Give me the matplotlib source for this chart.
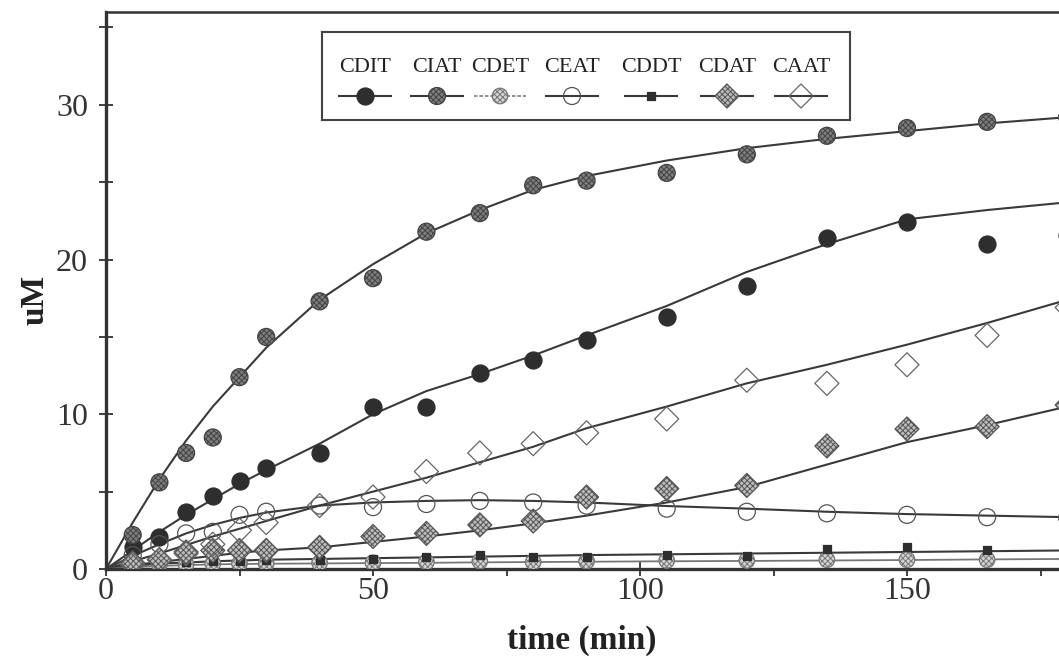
import matplotlib
matplotlib.use("Agg")
import matplotlib.pyplot as plt

plt.rcParams['font.family'] = ['Liberation Serif', 'DejaVu Serif']
plt.rcParams['hatch.linewidth'] = 0.7
plt.rcParams['hatch.color'] = '#333333'

W, H = 1059, 664

# measured time points (min)
t = [5, 10, 15, 20, 25, 30, 40, 50, 60, 70, 80, 90, 105, 120, 135, 150, 165, 180]
cdit = [1.4, 2.1, 3.7, 4.7, 5.7, 6.5, 7.5, 10.5, 10.5, 12.7, 13.5, 14.8, 16.3, 18.3, 21.4, 22.4, 21.0, 21.6]
ciat = [2.2, 5.6, 7.5, 8.5, 12.4, 15.0, 17.3, 18.8, 21.8, 23.0, 24.8, 25.1, 25.6, 26.8, 28.0, 28.5, 28.9, 29.2]
cdet = [0.2, 0.3, 0.3, 0.35, 0.35, 0.35, 0.4, 0.4, 0.45, 0.5, 0.45, 0.5, 0.55, 0.55, 0.6, 0.6, 0.6, 0.6]
ceat = [0.9, 1.6, 2.3, 2.4, 3.5, 3.7, 4.1, 4.0, 4.2, 4.4, 4.3, 4.1, 3.9, 3.7, 3.6, 3.5, 3.35, 3.3]
cddt = [0.3, 0.4, 0.45, 0.5, 0.5, 0.55, 0.6, 0.65, 0.8, 0.9, 0.8, 0.8, 0.9, 0.85, 1.3, 1.45, 1.2, 1.2]
cdat = [0.4, 0.6, 1.1, 1.2, 1.2, 1.2, 1.4, 2.1, 2.3, 2.85, 3.1, 4.65, 5.2, 5.4, 7.95, 9.05, 9.2, 10.6]
caat = [0.3, 0.6, 1.0, 1.6, 2.5, 3.0, 4.1, 4.65, 6.3, 7.5, 8.1, 8.8, 9.7, 12.2, 12.0, 13.2, 15.1, 16.9]

# fitted curves
tc = [0, 5, 10, 15, 20, 25, 30, 40, 50, 60, 70, 80, 90, 105, 120, 135, 150, 165, 180]
cdit_fit = [0, 1.2, 2.4, 3.5, 4.5, 5.5, 6.4, 8.1, 10.0, 11.5, 12.6, 13.8, 15.1, 17.0, 19.2, 21.0, 22.6, 23.2, 23.7]
ciat_fit = [0, 3.0, 5.8, 8.3, 10.5, 12.4, 14.3, 17.4, 19.7, 21.7, 23.2, 24.5, 25.4, 26.4, 27.2, 27.8, 28.3, 28.8, 29.2]
cdet_fit = [0, 0.12, 0.2, 0.25, 0.3, 0.32, 0.34, 0.36, 0.38, 0.4, 0.43, 0.45, 0.47, 0.5, 0.52, 0.55, 0.58, 0.62, 0.65]
ceat_fit = [0, 0.85, 1.6, 2.3, 2.85, 3.3, 3.65, 4.1, 4.3, 4.4, 4.45, 4.4, 4.3, 4.07, 3.9, 3.7, 3.55, 3.45, 3.35]
cddt_fit = [0, 0.2, 0.35, 0.42, 0.5, 0.55, 0.6, 0.65, 0.7, 0.75, 0.8, 0.85, 0.9, 0.95, 1.0, 1.05, 1.1, 1.15, 1.2]
cdat_fit = [0, 0.25, 0.45, 0.65, 0.85, 1.05, 1.2, 1.4, 1.75, 2.1, 2.5, 2.95, 3.45, 4.3, 5.3, 6.75, 8.2, 9.3, 10.5]
caat_fit = [0, 0.5, 1.0, 1.55, 2.1, 2.6, 3.1, 4.1, 5.0, 5.9, 6.9, 7.9, 9.1, 10.5, 12.0, 13.2, 14.5, 15.9, 17.4]

names = ["CDIT", "CIAT", "CDET", "CEAT", "CDDT", "CDAT", "CAAT"]
points = [cdit, ciat, cdet, ceat, cddt, cdat, caat]
fits = [cdit_fit, ciat_fit, cdet_fit, ceat_fit, cddt_fit, cdat_fit, caat_fit]

LINE = '#3a3a3a'
# marker, size (pt^2), face, edge, hatch
STYLES = [
    dict(marker='o', s=150, facecolor='#2e2e2e', edgecolor='#2e2e2e', hatch=None),
    dict(marker='o', s=150, facecolor='#7e7e7e', edgecolor='#444444', hatch='xxxxxx'),
    dict(marker='o', s=125, facecolor='#d4d4d4', edgecolor='#777777', hatch='xxxxxx'),
    dict(marker='o', s=150, facecolor='none', edgecolor='#555555', hatch=None),
    dict(marker='s', s=38, facecolor='#2e2e2e', edgecolor='#2e2e2e', hatch=None),
    dict(marker='D', s=150, facecolor='#bdbdbd', edgecolor='#555555', hatch='xxxxxx'),
    dict(marker='D', s=150, facecolor='none', edgecolor='#666666', hatch=None),
]

fig = plt.figure(figsize=(W / 100, H / 100), dpi=100)
x0, y0 = 106, 569
px_per_x = 5.34
xmax = 185
ax = fig.add_axes([x0 / W, (H - y0) / H, xmax * px_per_x / W, 557 / H])

for name, fit in zip(names, fits):
    if name == "CDET":
        continue
    ax.plot(tc, fit, color=LINE, lw=1.5, zorder=2)
ax.plot(tc, cdet_fit, color='#777777', lw=1.3, zorder=2)

for pts, st in zip(points, STYLES):
    ax.scatter(t, pts, marker=st['marker'], s=st['s'], facecolor=st['facecolor'],
               edgecolor=st['edgecolor'], hatch=st['hatch'], linewidths=0.9, zorder=3)

ax.set_xlim(0, xmax)
ax.set_ylim(0, 36)
ax.set_xticks([0, 50, 100, 150])
ax.set_xticks([25, 75, 125, 175], minor=True)
ax.set_yticks([0, 10, 20, 30])
ax.set_yticks([5, 15, 25, 35], minor=True)
ax.tick_params(axis='y', which='both', direction='inout', length=10, width=1.3,
               colors='#333333', labelsize=23, pad=8)
ax.tick_params(axis='x', which='major', direction='inout', length=10, width=1.3,
               colors='#333333', labelsize=23, pad=1)
ax.tick_params(axis='x', which='minor', direction='out', length=5, width=1.3, colors='#333333')

for side in ['left', 'bottom']:
    ax.spines[side].set_linewidth(2.4)
    ax.spines[side].set_color('#333333')
ax.spines['top'].set_linewidth(1.8)
ax.spines['top'].set_color('#333333')
ax.spines['right'].set_visible(False)

ax.set_xlabel("time (min)", fontsize=24, fontweight='bold', color='#222222')
ax.xaxis.set_label_coords((582 - x0) / (xmax * px_per_x), -0.1)
ax.set_ylabel("uM", fontsize=24, fontweight='bold', color='#222222')
ax.yaxis.set_label_coords(-0.056, 0.483)

# legend box: labels on top, handles below
lx0, ly0, lx1, ly1 = 322, 32, 850, 120
lax = fig.add_axes([lx0 / W, (H - ly1) / H, (lx1 - lx0) / W, (ly1 - ly0) / H])
lax.set_xlim(0, lx1 - lx0)
lax.set_ylim(ly1 - ly0, 0)
lax.set_xticks([])
lax.set_yticks([])
for sp in lax.spines.values():
    sp.set_linewidth(1.5)
    sp.set_color('#444444')
centers = [43, 115, 178, 250, 329, 405, 479]
for name, st, cx in zip(names, STYLES, centers):
    lax.text(cx, 35, name, ha='center', va='center', fontsize=16, color='#222222')
    if name == "CDET":
        lax.plot([cx - 26, cx + 26], [64, 64], color='#888888', lw=1.3, ls=(0, (2, 1)))
    else:
        lax.plot([cx - 26, cx + 26], [64, 64], color=LINE, lw=1.5)
    lax.scatter([cx], [64], marker=st['marker'], s=st['s'], facecolor=st['facecolor'],
                edgecolor=st['edgecolor'], hatch=st['hatch'], linewidths=0.9, zorder=3)

fig.savefig("out.png", dpi=100)
